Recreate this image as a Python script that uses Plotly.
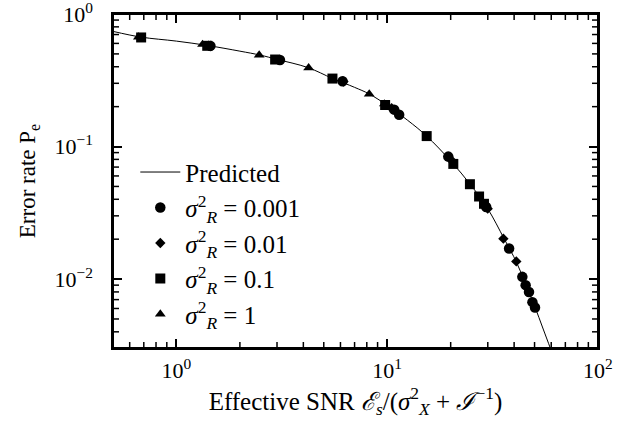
import math
import plotly.graph_objects as go

# Predicted curve
pred_x = [0.5, 0.68, 1.0, 1.4, 2.0, 2.5, 3.0, 4.2, 5.5, 7.0, 8.2, 10.0, 12.5, 15.4, 20.0, 25.0, 30.0, 36.0, 41.0, 45.0, 50.0, 55.0, 60.0]
pred_y = [0.74, 0.67, 0.625, 0.58, 0.525, 0.49, 0.455, 0.395, 0.327, 0.28, 0.25, 0.205, 0.158, 0.12, 0.078, 0.051, 0.034, 0.020, 0.0135, 0.0095, 0.0063, 0.0042, 0.0029]

# sigma_R^2 = 0.001 (circles)
c_x = [1.45, 3.1, 6.14, 10.8, 11.4, 19.5, 29.5, 37.9, 43.8, 45.4, 47.1, 48.9, 50.3]
c_y = [0.575, 0.45, 0.311, 0.19, 0.174, 0.084, 0.035, 0.017, 0.0104, 0.009, 0.008, 0.0067, 0.0061]
# sigma_R^2 = 0.01 (diamonds)
d_x = [1.42, 6.2, 10.5, 20.0, 30.0, 35.6, 41.0]
d_y = [0.578, 0.31, 0.195, 0.08, 0.034, 0.0202, 0.0136]
# sigma_R^2 = 0.1 (squares)
s_x = [0.68, 1.40, 2.94, 5.5, 9.78, 15.4, 20.6, 24.7, 27.3, 28.8]
s_y = [0.666, 0.576, 0.454, 0.326, 0.206, 0.12, 0.074, 0.052, 0.042, 0.037]
# sigma_R^2 = 1 (triangles)
t_x = [0.66, 1.33, 2.47, 4.24, 8.22, 9.7]
t_y = [0.67, 0.59, 0.49, 0.393, 0.249, 0.21]

legend_names = ["Predicted",
                "<i>σ</i><sup>2</sup><sub><i>R</i></sub> = 0.001",
                "<i>σ</i><sup>2</sup><sub><i>R</i></sub> = 0.01",
                "<i>σ</i><sup>2</sup><sub><i>R</i></sub> = 0.1",
                "<i>σ</i><sup>2</sup><sub><i>R</i></sub> = 1"]

x_ticks = [1, 10, 100]
x_ticktext = ["10<sup>0</sup>", "10<sup>1</sup>", "10<sup>2</sup>"]
y_ticks = [0.01, 0.1, 1]
y_ticktext = ["10<sup>−2</sup>", "10<sup>−1</sup>", "10<sup>0</sup>"]

font_family = "Liberation Serif, DejaVu Serif, serif"

W, H = 639, 427
ML, MR, MT, MB = 113, 41, 14, 79
PW, PH = W - ML - MR, H - MT - MB
XR = [math.log10(0.5), 2.0]
YR = [-2.52, 0.0]

fig = go.Figure()
fig.add_trace(go.Scatter(x=pred_x, y=pred_y, mode="lines", name=legend_names[0],
                         line=dict(color="black", width=1, shape="spline")))
fig.add_trace(go.Scatter(x=c_x, y=c_y, mode="markers", name=legend_names[1],
                         marker=dict(symbol="circle", size=10.5, color="black")))
fig.add_trace(go.Scatter(x=d_x, y=d_y, mode="markers", name=legend_names[2],
                         marker=dict(symbol="diamond", size=8, color="black")))
fig.add_trace(go.Scatter(x=s_x, y=s_y, mode="markers", name=legend_names[3],
                         marker=dict(symbol="square", size=10, color="black")))
fig.add_trace(go.Scatter(x=t_x, y=t_y, mode="markers", name=legend_names[4],
                         marker=dict(symbol="triangle-up", size=9.5, color="black")))

# frame + minor ticks (drawn as short lines, both sides)
minor_x = [m * 10 ** e for e in (-1, 0, 1) for m in range(2, 10) if 0.5 < m * 10 ** e < 100]
minor_y = [m * 10 ** e for e in (-3, -2, -1) for m in range(2, 10) if 0.003 < m * 10 ** e < 1]
MINLEN = 6
shapes = [dict(type="rect", xref="paper", yref="paper", x0=0, x1=1, y0=0, y1=1,
               line=dict(color="black", width=2), fillcolor="rgba(0,0,0,0)", layer="above")]
lx = MINLEN / PH
for v in minor_x:
    f = (math.log10(v) - XR[0]) / (XR[1] - XR[0])
    for y0, y1 in ((0, lx), (1, 1 - lx)):
        shapes.append(dict(type="line", xref="paper", yref="paper", x0=f, x1=f, y0=y0, y1=y1,
                           line=dict(color="black", width=1.5), layer="above"))
ly = MINLEN / PW
for v in minor_y:
    f = (math.log10(v) - YR[0]) / (YR[1] - YR[0])
    for x0, x1 in ((0, ly), (1, 1 - ly)):
        shapes.append(dict(type="line", xref="paper", yref="paper", x0=x0, x1=x1, y0=f, y1=f,
                           line=dict(color="black", width=1.5), layer="above"))

fig.update_layout(
    width=W, height=H,
    margin=dict(l=ML, r=MR, t=MT, b=MB),
    paper_bgcolor="white", plot_bgcolor="white",
    font=dict(family=font_family, size=22, color="black"),
    showlegend=True,
    shapes=shapes,
    legend=dict(x=0.046, y=0.595, xanchor="left", yanchor="top",
                bgcolor="rgba(0,0,0,0)", font=dict(size=25), tracegroupgap=0,
                itemwidth=40),
    xaxis=dict(type="log", range=[XR[0], XR[1] + 0.0005], showgrid=False, zeroline=False,
               automargin=False, ticklabeloverflow="allow",
               showline=True, linecolor="black", linewidth=1.5, mirror="allticks",
               ticks="inside", ticklen=9, tickcolor="black", tickwidth=1.5,
               tickmode="array", tickvals=x_ticks, ticktext=x_ticktext,
               tickfont=dict(size=22), ticklabelstandoff=2,
               title=dict(text="Effective SNR <i>ℰ<sub>s</sub></i>/(<i>σ</i><sup>2</sup><sub><i>X</i></sub> + <i>ℐ</i><sup>−1</sup>)",
                          standoff=10, font=dict(size=25))),
    yaxis=dict(type="log", range=[YR[0], YR[1] + 0.0005], showgrid=False, zeroline=False,
               automargin=False, ticklabeloverflow="allow",
               showline=True, linecolor="black", linewidth=1.5, mirror="allticks",
               ticks="inside", ticklen=9, tickcolor="black", tickwidth=1.5,
               tickmode="array", tickvals=y_ticks, ticktext=y_ticktext,
               tickfont=dict(size=22), ticklabelstandoff=14,
               title=dict(text="Error rate P<sub>e</sub>", standoff=12, font=dict(size=23))),
)

fig.write_html("out.html", config={"displayModeBar": False},
               post_script="document.body.style.margin='0px';")
